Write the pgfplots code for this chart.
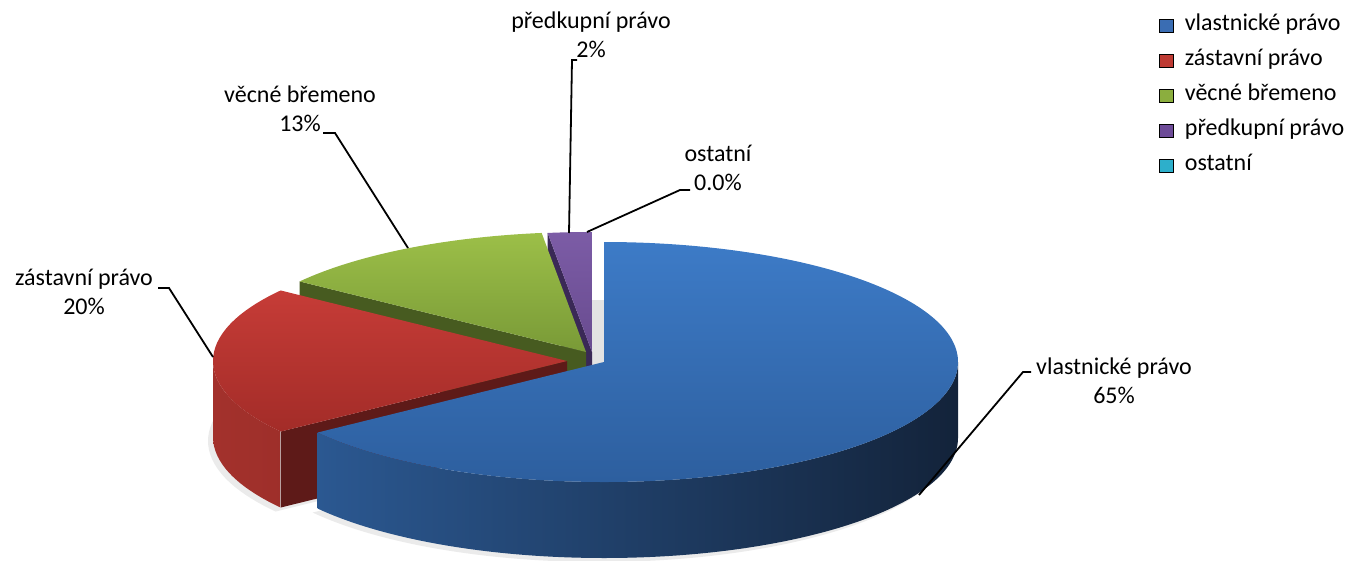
\documentclass[border=0pt]{standalone}
\usepackage{fontspec}
\setmainfont{Carlito}
\usepackage{pgfplots}
\usepackage{pgfplotstable}
\pgfplotsset{compat=1.18}

\definecolor{bT1}{HTML}{3D7BC7}
\definecolor{bT2}{HTML}{2C5D9C}
\definecolor{bS1}{HTML}{2B5891}
\definecolor{bS2}{HTML}{13233A}
\definecolor{rT1}{HTML}{C63C37}
\definecolor{rT2}{HTML}{A32C28}
\definecolor{rS1}{HTML}{A3312C}
\definecolor{rS2}{HTML}{8A2622}
\definecolor{rW}{HTML}{5E1A18}
\definecolor{gT1}{HTML}{9CBF48}
\definecolor{gT2}{HTML}{799A37}
\definecolor{gW}{HTML}{475B20}
\definecolor{pT1}{HTML}{7C5CA6}
\definecolor{pT2}{HTML}{684B8F}
\definecolor{pW}{HTML}{3A2956}
\definecolor{lB}{HTML}{3A6DB3}
\definecolor{lR}{HTML}{BE3A33}
\definecolor{lG}{HTML}{8BAE3E}
\definecolor{lP}{HTML}{6D4B98}
\definecolor{lC}{HTML}{2DAFCB}

\pgfplotstableread{
cat value
1 65
2 20
3 13
4 2
5 0
}\piedata

\newcommand{\lbl}{\fontsize{24}{29}\selectfont}

\begin{document}
\begin{tikzpicture}
\pgfplotstablegetelem{0}{value}\of\piedata \edef\vA{\pgfplotsretval}
\pgfplotstablegetelem{1}{value}\of\piedata \edef\vB{\pgfplotsretval}
\pgfplotstablegetelem{2}{value}\of\piedata \edef\vC{\pgfplotsretval}
\pgfplotstablegetelem{3}{value}\of\piedata \edef\vD{\pgfplotsretval}
\pgfmathsetmacro\aA{90-3.6*\vA}
\pgfmathsetmacro\aB{\aA-3.6*\vB}
\pgfmathsetmacro\aC{\aB-3.6*\vC}
\pgfmathsetmacro\aD{\aC-3.6*\vD}
\pgfmathsetmacro\aBf{max(\aB,-180)}
\def\dep{76pt}
\begin{axis}[
  scale only axis, width=1348pt, height=561pt,
  xmin=0, xmax=1348, ymin=0, ymax=561, y dir=reverse,
  hide axis, clip=false,
  legend image code/.code={\fill[#1] (0pt,-6.5pt) rectangle (13pt,6.5pt);},
  legend cell align=left,
  legend style={at={(0.860,0.979)}, anchor=north west, draw=none, fill=none,
    font=\lbl, inner sep=0pt, row sep=8pt,
    /tikz/every odd column/.append style={column sep=10pt},
    nodes={inner sep=2pt, text height=17pt, text depth=6pt}},
]
\addlegendimage{fill=lB}\addlegendentry{vlastnické právo}
\addlegendimage{fill=lR}\addlegendentry{zástavní právo}
\addlegendimage{fill=lG}\addlegendentry{věcné břemeno}
\addlegendimage{fill=lP}\addlegendentry{předkupní právo}
\addlegendimage{fill=lC}\addlegendentry{ostatní}

\coordinate (bbA) at (axis cs:0,561);
\coordinate (bbB) at (axis cs:1348,0);

% shadow
\fill[gray!16] (axis cs:599,442) ++(\aA:354pt and 120pt) arc[start angle=\aA,end angle=90,x radius=354pt,y radius=120pt] -- (axis cs:599,442) -- cycle;
\fill[gray!16] (axis cs:562,441) ++(\aB:354pt and 120pt) arc[start angle=\aB,end angle=\aA,x radius=354pt,y radius=120pt] -- (axis cs:562,441) -- cycle;
\fill[gray!22] (axis cs:586,368) rectangle (axis cs:604,300);

% purple
\fill[pW] (axis cs:592,352) -- ++(\aC:354pt and 120pt) -- ++(0,-\dep) -- (axis cs:592,428) -- cycle;
\path[top color=pT1,bottom color=pT2] (axis cs:592,352) -- ++(\aD:354pt and 120pt) arc[start angle=\aD,end angle=\aC,x radius=354pt,y radius=120pt] -- cycle;

% green
\fill[gW] (axis cs:586,352) -- ++(\aB:354pt and 120pt) -- ++(0,-\dep) -- (axis cs:586,428) -- cycle;
\path[top color=gT1,bottom color=gT2] (axis cs:586,352) -- ++(\aC:354pt and 120pt) arc[start angle=\aC,end angle=\aB,x radius=354pt,y radius=120pt] -- cycle;

% red
\fill[rW] (axis cs:567,361) -- ++(\aA:354pt and 120pt) -- ++(0,-\dep) -- (axis cs:567,437) -- cycle;
\path[left color=rS1,right color=rS2] (axis cs:567,361) ++(\aBf:354pt and 120pt) arc[start angle=\aBf,end angle=\aA,x radius=354pt,y radius=120pt] -- ++(0,-\dep) arc[start angle=\aA,end angle=\aBf,x radius=354pt,y radius=120pt] -- cycle;
\path[top color=rT1,bottom color=rT2] (axis cs:567,361) -- ++(\aB:354pt and 120pt) arc[start angle=\aB,end angle=\aA,x radius=354pt,y radius=120pt] -- cycle;

% blue
\path[left color=bS1,right color=bS2] (axis cs:604,362) ++(\aA:354pt and 120pt) arc[start angle=\aA,end angle=0,x radius=354pt,y radius=120pt] -- ++(0,-\dep) arc[start angle=0,end angle=\aA,x radius=354pt,y radius=120pt] -- cycle;
\path[top color=bT1,bottom color=bT2] (axis cs:604,362) -- ++(\aA:354pt and 120pt) arc[start angle=\aA,end angle=90,x radius=354pt,y radius=120pt] -- cycle;

% leader lines
\begin{scope}[line width=1.8pt, black]
\draw (axis cs:919,495) -- (axis cs:1023,372) -- (axis cs:1031,372);
\draw (axis cs:213,357) -- (axis cs:169,288) -- (axis cs:158,288);
\draw (axis cs:408,248) -- (axis cs:335,133) -- (axis cs:323,133);
\draw (axis cs:569,233) -- (axis cs:572,60) -- (axis cs:577,60);
\draw (axis cs:587,232) -- (axis cs:680,190) -- (axis cs:690,190);
\end{scope}

% labels
\node[align=center, font=\lbl] at (axis cs:1114,381) {vlastnické právo\\65\%};
\node[align=center, font=\lbl] at (axis cs:84,292) {zástavní právo\\20\%};
\node[align=center, font=\lbl] at (axis cs:300,109) {věcné břemeno\\13\%};
\node[align=center, font=\lbl] at (axis cs:591,35) {předkupní právo\\2\%};
\node[align=center, font=\lbl] at (axis cs:718,168) {ostatní\\0.0\%};
\end{axis}
\pgfresetboundingbox
\path (bbA) rectangle (bbB);
\end{tikzpicture}
\end{document}
